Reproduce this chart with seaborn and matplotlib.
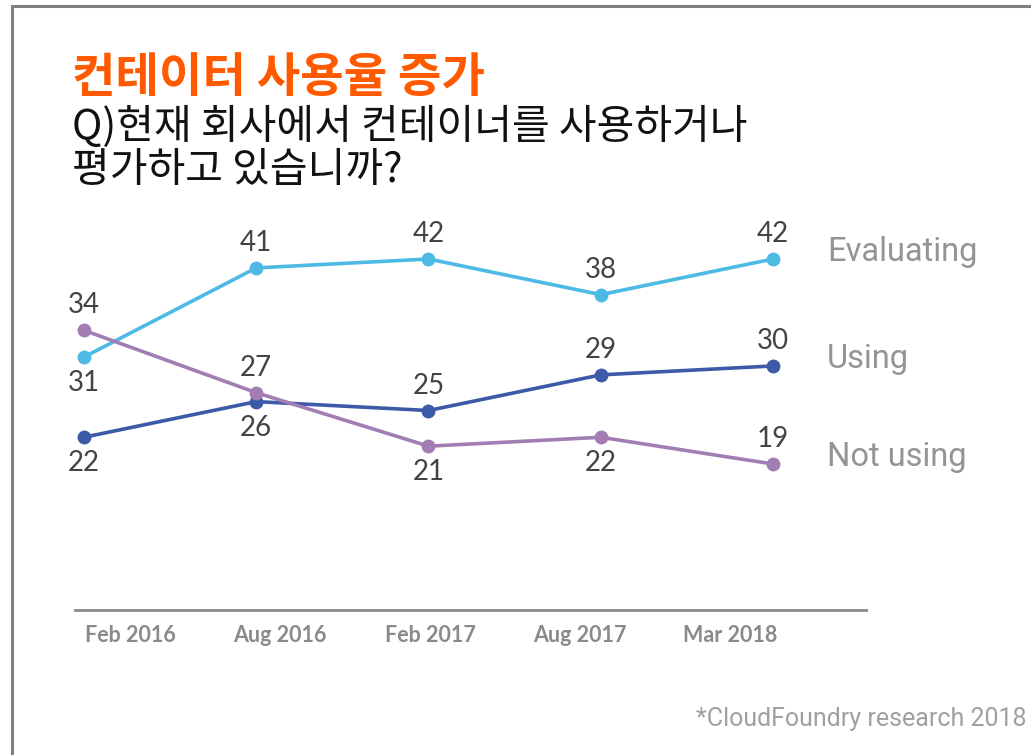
import pandas as pd
import matplotlib.pyplot as plt
import seaborn as sns
from matplotlib.patches import Rectangle

# data
periods = ['Feb 2016', 'Aug 2016', 'Feb 2017', 'Aug 2017', 'Mar 2018']
series_names = ['Evaluating', 'Using', 'Not using']
evaluating = [31, 41, 42, 38, 42]
using = [22, 26, 25, 29, 30]
not_using = [34, 27, 21, 22, 19]

title = '컨테이터 사용율 증가'
subtitle_lines = ['Q)현재 회사에서 컨테이너를 사용하거나', '평가하고 있습니까?']
source = '*CloudFoundry research 2018'

colors = {'Evaluating': '#4dbae6', 'Using': '#3d5aa8', 'Not using': '#a27db4'}
# which side of the marker each value label goes
label_side = {
    'Evaluating': ['below', 'above', 'above', 'above', 'above'],
    'Using': ['below', 'below', 'above', 'above', 'above'],
    'Not using': ['above', 'above', 'below', 'below', 'above'],
}

rows = []
for name, vals in zip(series_names, [evaluating, using, not_using]):
    for i, v in enumerate(vals):
        rows.append({'series': name, 'pos': i, 'period': periods[i], 'value': v})
df = pd.DataFrame(rows)

sns.set_theme(style='white')
plt.rcParams['font.family'] = ['Noto Sans CJK KR', 'DejaVu Sans']

W, H = 1031, 755
fig = plt.figure(figsize=(W / 100, H / 100), dpi=100)

# frame around the slide (only top/left visible)
fig.patches.append(Rectangle((12 / W, -0.1), 1.2, 1 - 6 / H + 0.1, transform=fig.transFigure,
                             fill=False, edgecolor='#808080', linewidth=2.2))

# main plotting area: x 0..4 -> px 84..773, y 19..42 -> px 464..259
ax = fig.add_axes([84 / W, (H - 464) / H, (773 - 84) / W, (464 - 259) / H])
sns.lineplot(data=df, x='pos', y='value', hue='series', palette=colors,
             marker='o', markersize=10, markeredgewidth=0, linewidth=2.6,
             legend=False, ax=ax)
for line in ax.lines:
    line.set_clip_on(False)
ax.set_xlim(0, 4)
ax.set_ylim(19, 42)
ax.axis('off')

for name, vals in zip(series_names, [evaluating, using, not_using]):
    for i, v in enumerate(vals):
        dy = 25 if label_side[name][i] == 'above' else -26
        ax.annotate(str(v), (i, v), xytext=(0, dy), textcoords='offset pixels',
                    ha='center', va='center', fontsize=20, color='#444444',
                    family=['Lato', 'DejaVu Sans'])
    ax.annotate(name, (4, vals[-1]), xytext=(54, 7), textcoords='offset pixels',
                ha='left', va='center', fontsize=23.5, color='#949494',
                family=['Roboto', 'DejaVu Sans'])

# category axis with its own spacing, as in the reference
ax2 = fig.add_axes([75 / W, (H - 610) / H, (866 - 75) / W, 0.001])
ax2.set_xlim(-55 / 150, 736 / 150)
ax2.set_xticks(range(len(periods)))
ax2.set_xticklabels(periods, fontsize=15.5, fontweight='bold', color='#8a8a8a',
                    family=['Lato', 'DejaVu Sans'])
ax2.tick_params(axis='x', length=0, pad=11)
ax2.set_yticks([])
for s in ['top', 'left', 'right']:
    ax2.spines[s].set_visible(False)
ax2.spines['bottom'].set_color('#8a8a8a')
ax2.spines['bottom'].set_linewidth(2)
ax2.patch.set_alpha(0)

fig.text(72 / W, 1 - 92 / H, title, fontsize=34, fontweight='bold', color='#ff5a00',
         ha='left', va='baseline')
fig.text(72 / W, 1 - 139 / H, subtitle_lines[0], fontsize=29.5, color='#111111',
         fontweight='light', ha='left', va='baseline')
fig.text(72 / W, 1 - 182 / H, subtitle_lines[1], fontsize=29.5, color='#111111',
         fontweight='light', ha='left', va='baseline')
fig.text(1027 / W, 1 - 726 / H, source, fontsize=18, color='#a0a0a0',
         ha='right', va='baseline', family=['Roboto', 'DejaVu Sans'])

fig.savefig('out.png', dpi=100)
